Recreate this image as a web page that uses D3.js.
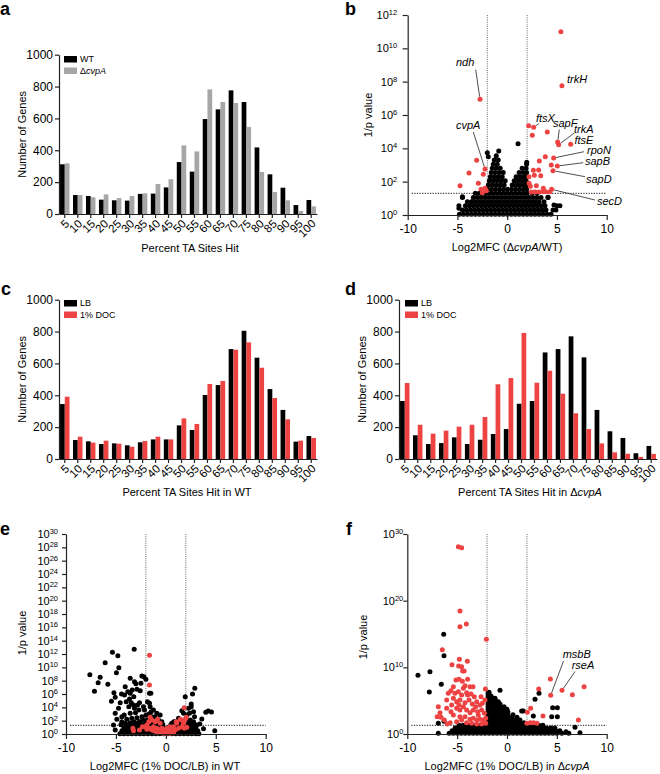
<!DOCTYPE html>
<html><head><meta charset="utf-8">
<script src="https://cdn.jsdelivr.net/npm/d3@7"></script>
<style>body{margin:0;background:#fff} text{font-family:"Liberation Sans",Arial,Helvetica,sans-serif;fill:#000}</style>
</head><body><script>
// ---------- DATA ----------
const cats = [5,10,15,20,25,30,35,40,45,50,55,60,65,70,75,80,85,90,95,100];
const yBarTicks = [0,200,400,600,800,1000];
const wtA   = [312,119,113,90,86,84,126,128,167,326,266,596,657,776,703,418,249,165,56,88];
const cvpA_A= [318,119,105,123,100,113,130,188,218,431,393,782,703,697,546,264,138,86,19,48];
const lbC   = [345,119,111,94,98,86,105,123,123,211,182,402,464,690,805,636,439,308,109,144];
const docC  = [391,140,103,115,96,77,113,140,123,255,220,471,490,686,732,573,383,249,115,132];
const lbD   = [364,149,94,100,136,94,121,157,188,347,364,669,690,770,638,308,174,132,36,82];
const docD  = [477,215,159,178,203,215,264,469,508,791,479,554,410,287,188,98,42,33,13,32];
const xVolTicks = [-10,-5,0,5,10];

// volcano points: [log2 fold change, log10(1/p)]
const bRed = [[5.4,11.0],[5.5,7.76],[-2.73,6.94],[2.16,5.36],[2.66,5.26],[2.52,4.78],[4.03,4.98],[5.07,4.38],[5.17,4.22],[6.38,4.24],[4.67,3.42],[3.83,3.5],[3.23,3.24],[4.43,3.0],[5.04,2.94],[4.6,2.66],[2.63,2.68],[3.16,2.7],[2.19,2.3],[2.73,2.38],[3.37,2.36],[2.32,1.72],[2.93,1.76],[3.63,1.6],[4.47,1.54],[2.42,1.38],[2.79,1.38],[3.2,1.38],[3.63,1.4],[3.87,1.4],[4.3,1.4],[2.2,1.9],[-2.23,2.76],[-2.4,2.44],[-3.07,3.28],[-3.84,2.52],[-4.74,1.76],[-2.9,1.9],[-2.63,1.54],[-2.5,1.34],[-2.23,1.6],[-2.1,1.45]];
const bBlackRows = [
 [0.05,[-4.8,-4.4,-4.0,-3.6,-3.2,-2.8,-2.4,-2.0,-1.6,-1.2,-0.8,-0.4,0,0.4,0.8,1.2,1.6,2.0,2.4,2.8,3.2,3.6,4.0,4.4]],
 [0.3,[-4.5,-4.1,-3.7,-3.3,-2.9,-2.5,-2.1,-1.7,-1.3,-0.9,-0.5,-0.1,0.3,0.7,1.1,1.5,1.9,2.3,2.7,3.1,3.5,3.9,4.6,4.9]],
 [0.55,[-4.85,-4.2,-3.8,-3.4,-3.0,-2.6,-2.2,-1.8,-1.4,-1.0,-0.6,-0.2,0.2,0.6,1.0,1.4,1.8,2.2,2.6,3.0,3.4,3.8,5.0,5.3]],
 [0.8,[-4.0,-3.6,-3.2,-2.8,-2.4,-2.0,-1.6,-1.2,-0.8,-0.4,0,0.4,0.8,1.2,1.6,2.0,2.4,2.8,3.2,3.7]],
 [1.05,[-4.5,-3.4,-3.0,-2.6,-2.2,-1.8,-1.4,-1.0,-0.6,-0.2,0.2,0.6,1.0,1.4,1.8,2.2,2.6,3.0,3.4,4.1]],
 [1.3,[-3.2,-2.8,-2.4,-2.0,-1.6,-1.2,-0.8,-0.4,0,0.4,0.8,1.2,1.6,2.0,2.5,3.0]],
 [1.55,[-1.95,-1.55,-1.15,-0.75,-0.35,0.05,0.45,0.85,1.25,1.65,1.95]],
 [1.8,[-1.9,-1.5,-1.1,-0.7,-0.3,0.5,0.9,1.3,1.7,1.95]],
 [2.05,[-1.8,-1.4,-1.0,-0.6,-0.2,0.7,1.1,1.5,1.9]],
 [2.3,[-1.7,-1.3,-0.9,-0.5,0.9,1.3,1.7,1.95]],
 [2.55,[-1.6,-1.2,-0.8,-0.4,1.2,1.6,1.95]],
 [2.8,[-1.5,-1.1,-0.7,1.5,1.9]],
 [3.05,[-1.4,-1.0,1.95]],
 [3.3,[-1.3,-0.9]]
];
const bBlackExtra = [[-2.0,3.74],[-0.85,3.84],[1.09,4.28],[1.96,3.16],[-1.9,3.5],[-1.1,3.55],[-4.85,0.4],[-4.5,1.1],[4.1,1.06],[4.7,0.6]];

const eRed = [[-1.64,11.8],[-1.64,7.35],[1.84,3.95],[-1.57,2.5],[-1.4,2.1],[-1.07,1.85],[-0.83,2.2],[-0.57,1.6],[-1.7,1.85],[-1.9,1.35],[-2.07,1.1],[-1.24,1.1],[-0.9,0.85],[-0.4,0.85],[-0.07,0.6],[0.27,0.6],[0.6,0.5],[0.93,0.6],[1.27,0.85],[1.6,1.1],[1.77,1.6],[1.94,2.2],[2.04,2.5],[1.6,2.1],[1.1,1.6],[0.77,1.1],[0.43,1.1],[0.1,0.85],[-0.23,0.35],[-0.57,0.35],[-0.9,0.2],[-1.4,0.6],[-1.64,0.85],[-3.3,0.85],[-3.24,0.5],[1.84,0.85],[2.1,1.0],[1.04,1.85],[1.44,2.2],[-0.23,0.1],[0.1,0.1],[0.43,0.1],[0.77,0.2],[-0.57,0.7],[-1.17,0.5],[-1.9,0.7],[-2.34,1.1],[-2.64,0.6]];
const eBlack = [[-3.17,12.7],[-5.35,12.25],[-4.81,11.75],[-6.08,10.7],[-4.71,9.95],[-4.95,9.2],[-7.61,8.9],[-6.58,8.5],[-6.78,7.7],[-5.81,7.45],[-7.15,6.4],[-5.2,6.2],[-5.45,4.9],[-3.57,8.35],[-3.14,7.85],[-3.0,7.55],[-2.5,7.6],[-2.4,8.7],[-2.2,8.6],[-2.0,8.2],[-1.64,6.1],
 [-4.44,6.0],[-4.14,5.85],[-3.81,6.35],[-3.57,6.1],[-3.37,6.6],[-3.21,5.6],[-3.64,5.25],[-3.97,4.85],[-3.47,4.7],[-3.24,4.35],[-3.71,4.1],[-3.14,3.85],[-2.84,4.35],[-2.64,4.7],[-2.7,3.6],[-3.04,3.2],[-3.57,3.1],[-4.17,2.85],[-4.41,2.6],[-3.91,2.2],[-3.41,2.35],[-2.9,2.45],[-2.4,2.6],[-2.0,2.8],[-2.14,3.6],[-2.24,4.1],[-1.84,4.85],[-1.64,4.6],[-1.57,4.1],[-1.47,3.35],[-1.7,3.0],[-1.4,2.6],[-4.41,1.85],[-4.07,1.6],[-3.57,1.7],[-3.07,1.7],[-2.64,1.85],[-2.24,2.1],[-1.84,2.1],[-1.4,1.85],[-1.07,2.6],[-0.73,2.1],[-0.57,2.85],[-0.9,3.1],[-1.24,3.6],[-1.5,6.1],[-2.9,6.7],[-2.57,6.5],[-4.07,7.1],[-5.07,5.5],[-4.57,4.7],[-4.74,3.85],[-5.07,3.1],[-4.91,2.2],[-5.24,1.35],
 [2.9,6.85],[2.67,6.0],[1.94,5.6],[2.54,4.5],[2.54,4.1],[2.87,2.6],[4.0,3.25],[4.24,3.45],[4.57,3.3],[3.4,1.5],[3.6,2.25],[4.9,0.5],[3.77,0.8],[1.6,3.5],[1.77,3.1],[2.1,2.85],[1.27,2.35],[0.93,1.85],[0.6,1.6],[1.5,1.6],[2.44,2.1],[2.77,1.85],[3.1,1.35],[2.6,0.85],[2.1,0.6],[2.37,3.1],[2.77,3.35],[2.27,3.85],[-5.07,0.6]];
const eBlackRows = [
 [0.05,[-4.6,-4.2,-3.8,-3.4,-3.0,-2.6,-2.2,-1.8,-1.4,-1.0,-0.6,-0.2,0.2,0.6,1.0,1.4,1.8,2.2,2.6,3.0,3.3]],
 [0.5,[-4.4,-4.0,-3.6,-3.2,-2.8,-2.4,-2.0,-1.6,-1.2,-0.8,-0.4,0,0.4,0.8,1.2,1.6,2.0,2.4,2.8,3.2]],
 [0.95,[-4.2,-3.8,-3.4,-3.0,-2.6,-2.2,-1.8,-1.4,-1.0,-0.6,-0.2,0.2,0.6,1.0,1.4,1.8,2.2,2.6,3.0]],
 [1.4,[-4.5,-3.9,-3.5,-3.1,-2.7,-2.3,-1.9,-1.5,-1.1,-0.7,-0.3,0.5,0.9,1.3,1.7,2.1,2.5,2.9]],
 [1.85,[-3.2,-2.6,-2.0,-1.2,-0.4,0.8,1.6,2.3]]
];

const fRed = [[-4.88,28.1],[-4.55,27.95],[-4.72,18.45],[-4.72,16.1],[-4.08,16.5],[-2.07,14.2],[-6.49,12.65],[-4.78,11.2],[-3.98,10.9],[-5.52,10.4],[-4.85,10.2],[-4.55,10.1],[-4.45,9.45],[-4.3,9.45],
 [-5.12,8.1],[-4.82,8.2],[-4.48,7.9],[-3.95,8.2],[-4.21,7.25],[-3.71,7.1],[-3.41,7.1],[-5.38,7.1],[-5.62,6.5],[-5.22,6.1],[-4.88,6.35],[-4.55,5.85],[-4.05,6.2],[-3.61,6.0],[-3.28,5.6],[-5.38,5.35],[-5.05,4.85],[-4.72,5.1],[-4.21,4.7],[-3.81,5.1],[-3.48,4.5],[-3.04,4.85],[-2.61,5.6],[-2.47,4.6],[-2.21,5.1],[-2.17,6.75],[-6.05,5.1],[-6.05,3.85],[-6.89,4.1],[-6.72,3.2],[-6.62,2.5],[-6.29,2.1],[-5.62,3.35],[-5.38,2.85],[-5.05,3.85],[-4.72,3.6],[-4.38,4.1],[-4.05,3.6],[-3.71,3.2],[-3.38,3.6],[-2.94,3.35],[-2.54,3.6],[-2.27,3.1],[-4.21,2.6],[-3.71,2.2],[-3.38,2.35],[-3.04,2.1],[-2.71,2.2],[-2.37,2.1],[-2.14,2.35],[-4.55,2.1],[-5.05,1.85],[-4.05,1.7],[-3.55,1.6],[-3.04,1.5],[-2.54,1.5],[-2.14,1.6],[-4.72,2.6],[-2.88,2.85],[-3.95,5.85],[-5.89,6.1],[-4.38,6.85],[-4.82,4.35],[-5.55,4.35],[-2.71,4.35],[-3.14,4.1],[-7.0,2.6],[-5.7,1.7],[-6.0,1.5],
 [4.35,8.25],[7.73,7.1],[3.18,6.75],[4.38,5.8],[5.52,6.55],[6.56,5.9],[2.37,3.85],[2.04,3.25],[3.61,2.7],[7.16,2.1],[2.0,1.6],[2.33,1.7],[2.66,1.7],[3.0,1.6]];
const fBlack = [[-6.35,14.95],[-6.32,11.75],[-8.93,8.8],[-7.73,9.35],[-7.79,6.3],[-6.59,7.45],[-6.89,1.6],[-6.89,0.1],[-6.32,1.9],[-1.8,6.25],[-0.7,6.55],[3.21,6.1],[2.81,5.2],[2.64,2.7],[1.64,3.45],[4.58,3.95],[5.05,3.95],[4.48,2.6],[5.05,2.6],[6.82,1.0],[7.32,0.2],[5.92,0.35],[-1.2,5.35],[-0.87,4.85],[-0.7,4.1],[1.47,3.45]];
const fBlackRows = [
 [0.1,[-5.8,-5.4,-5.0,-4.6,-4.2,-3.8,-3.4,-3.0,-2.6,-2.2,-1.8,-1.4,-1.0,-0.6,-0.2,0.2,0.6,1.0,1.4,1.8,2.2,2.6,3.0,3.4,3.8,4.2,4.6,5.0,5.5,6.2]],
 [0.5,[-5.5,-5.1,-4.7,-4.3,-3.9,-3.5,-3.1,-2.7,-2.3,-1.9,-1.5,-1.1,-0.7,-0.3,0.1,0.5,0.9,1.3,1.7,2.1,2.5,2.9,3.3,3.7,4.1,4.5,4.9,5.3]],
 [0.9,[-5.2,-4.8,-4.4,-4.0,-3.6,-3.2,-2.8,-2.4,-2.0,-1.6,-1.2,-0.8,-0.4,0,0.4,0.8,1.2,1.6,2.0,2.4,2.8,3.2,3.6,4.0,4.4,4.8]],
 [1.3,[-4.8,-4.4,-4.0,-3.6,-3.2,-2.8,-2.4,-2.0,-1.6,-1.2,-0.8,-0.4,0,0.4,0.8,1.2,1.6,2.0,2.4,2.8,3.2,3.6]],
 [1.7,[-1.9,-1.5,-1.1,-0.7,-0.3,0.1,0.5,0.9,1.3,1.7]],
 [2.1,[-1.9,-1.5,-1.1,-0.7,-0.3,0.1,0.5,0.9,1.3]],
 [2.5,[-1.9,-1.5,-1.1,-0.7,-0.3,0.1,0.5,1.0]],
 [2.9,[-1.9,-1.5,-1.1,-0.7,-0.3,0.1,0.6]],
 [3.3,[-1.9,-1.5,-1.1,-0.7,-0.3,0.1]],
 [3.7,[-1.9,-1.5,-1.1,-0.7,-0.3,0.0]],
 [4.1,[-1.9,-1.5,-1.1,-0.7,-0.3]],
 [4.5,[-1.9,-1.5,-1.1,-0.7]],
 [4.9,[-1.9,-1.5,-1.1]],
 [5.3,[-1.9,-1.5]],
 [5.7,[-1.9,-1.6]],
 [6.1,[-1.9]]
];
const bGenes = [
 {name:"ndh", pt:[-2.73,6.94], tx:456, ty:66, line:[475.7,69.5]},
 {name:"cvpA", pt:[-2.23,2.76], tx:456, ty:129, line:[473.3,132]},
 {name:"trkH", pt:[5.5,7.76], tx:567, ty:83, line:null},
 {name:"ftsX", pt:[2.66,5.26], tx:536, ty:122, line:[539,123.5]},
 {name:"sapF", pt:[5.07,4.38], tx:553, ty:127, line:[559.3,129.5]},
 {name:"trkA", pt:[5.17,4.22], tx:574, ty:133, line:[574.3,133]},
 {name:"ftsE", pt:[6.38,4.24], tx:574.5, ty:144, line:null},
 {name:"rpoN", pt:[4.67,3.42], tx:587, ty:154, line:[584,151.7]},
 {name:"sapB", pt:[5.04,2.94], tx:585, ty:165, line:[583.3,162.7]},
 {name:"sapD", pt:[4.6,2.66], tx:586, ty:182.5, line:[585,176.7]},
 {name:"secD", pt:[4.47,1.54], tx:597, ty:205, line:[595,200]}
];
const fGenes = [
 {name:"msbB", pt:[4.38,5.8], tx:562.7, ty:658, line:[563.5,661]},
 {name:"rseA", pt:[5.52,6.55], tx:571.7, ty:669, line:[575,671.5]}
];

// ---------- DRAWING ----------
const RED = "#ee4343", GRAY = "#a6a6a6", BLK = "#000";
const svg = d3.select("body").append("svg").attr("width",660).attr("height",774);

function letter(t,x,y){ svg.append("text").attr("x",x).attr("y",y).attr("font-size",18).attr("font-weight","bold").text(t); }

function styleAxis(a,fs){
  a.selectAll("path,line").attr("stroke","#222").attr("stroke-width",1.2);
  a.selectAll("text").attr("font-size",fs||11).attr("fill","#000").attr("font-family",null);
}

function barPanel(o){
  const g = svg.append("g");
  const x = d3.scaleBand().domain(cats).range([o.x0,o.x1]).paddingInner(0.27).paddingOuter(0.08);
  const y = d3.scaleLinear().domain([0,1000]).range([o.yb,o.yt]);
  const sub = d3.scaleBand().domain([0,1]).range([0,x.bandwidth()]);
  [o.s1,o.s2].forEach((s,k)=>{
    g.append("g").selectAll("rect").data(s).join("rect")
      .attr("x",(d,i)=>x(cats[i])+sub(k)).attr("y",d=>y(d))
      .attr("width",sub.bandwidth()).attr("height",d=>y(0)-y(d)).attr("fill",o.colors[k]);
  });
  const ya = g.append("g").attr("transform",`translate(${o.x0},0)`)
    .call(d3.axisLeft(y).tickValues(yBarTicks).tickFormat(d3.format("d")).tickSize(4).tickSizeOuter(0).tickPadding(2));
  styleAxis(ya,12);
  const xa = g.append("g").attr("transform",`translate(0,${o.yb})`)
    .call(d3.axisBottom(x).tickSize(4).tickSizeOuter(0));
  styleAxis(xa,11.5);
  xa.selectAll(".tick text").attr("x",0).attr("y",0).attr("dy","0.35em")
    .attr("text-anchor","end").attr("transform","translate(2.5,7.5) rotate(-45)");
  // legend
  o.legend.forEach((L,k)=>{
    const ly = o.legY + k*11.5;
    g.append("rect").attr("x",o.legX).attr("y",ly).attr("width",13).attr("height",6.5).attr("fill",o.colors[k]);
    const t = g.append("text").attr("x",o.legX+16).attr("y",ly+6.2).attr("font-size",9);
    L.forEach(p=>t.append("tspan").attr("font-style",p.i?"italic":null).text(p.t));
  });
  // labels
  const xl = g.append("text").attr("x",o.xlx).attr("y",o.xly).attr("text-anchor","middle").attr("font-size",11);
  o.xlabel.forEach(p=>xl.append("tspan").attr("font-style",p.i?"italic":null).text(p.t));
  g.append("text").attr("transform",`translate(${o.ylx},${(o.yt+o.yb)/2}) rotate(-90)`)
    .attr("text-anchor","middle").attr("font-size",11).text("Number of Genes");
}

function volcano(o){
  const g = svg.append("g");
  const x = d3.scaleLinear().domain([-10,10]).range([o.x0,o.x1]);
  const y = d3.scaleLog().domain([1,Math.pow(10,o.emax)]).range([o.yb,o.yt]);
  const P = e => y(Math.pow(10,e));
  // threshold lines
  [-2,2].forEach(v=>g.append("line").attr("x1",x(v)).attr("x2",x(v)).attr("y1",o.yt).attr("y2",o.yb)
     .attr("stroke","#666").attr("stroke-width",1).attr("stroke-dasharray","1,1.2"));
  g.append("line").attr("x1",o.x0+4).attr("x2",o.x1).attr("y1",y(20)).attr("y2",y(20))
     .attr("stroke","#222").attr("stroke-width",1).attr("stroke-dasharray","1.3,1.3");
  const black = o.rows.flatMap(r=>r[1].map(v=>[v,r[0]])).concat(o.black);
  g.append("g").selectAll("circle").data(black).join("circle")
    .attr("cx",d=>x(d[0])).attr("cy",d=>P(d[1])).attr("r",2.5).attr("fill",BLK);
  g.append("g").selectAll("circle").data(o.red).join("circle")
    .attr("cx",d=>x(d[0])).attr("cy",d=>P(d[1])).attr("r",2.5).attr("fill",RED);
  // axes
  const xa = g.append("g").attr("transform",`translate(0,${o.yb})`)
    .call(d3.axisBottom(x).tickValues(xVolTicks).tickFormat(d=>String(d)).tickSize(5).tickSizeOuter(0).tickPadding(4));
  styleAxis(xa,12);
  const exps = d3.range(0,o.emax+1,o.step);
  const ya = g.append("g").attr("transform",`translate(${o.x0},0)`)
    .call(d3.axisLeft(y).tickValues(exps.map(k=>Math.pow(10,k))).tickFormat("").tickSize(o.ts).tickSizeOuter(0));
  styleAxis(ya);
  exps.forEach(k=>{
    const t = g.append("text").attr("x",o.x0-o.lpad).attr("y",P(k)).attr("dy","0.36em")
      .attr("text-anchor","end").attr("font-size",11);
    t.append("tspan").text("10");
    t.append("tspan").attr("dy",-4).attr("font-size",7.5).text(k);
  });
  const xl = g.append("text").attr("x",o.xlx).attr("y",o.xly).attr("text-anchor","middle").attr("font-size",11);
  o.xlabel.forEach(p=>xl.append("tspan").attr("font-style",p.i?"italic":null).text(p.t));
  g.append("text").attr("transform",`translate(${o.ylx},${o.yly}) rotate(-90)`)
    .attr("text-anchor","middle").attr("font-size",11).text("1/p value");
  // annotations
  (o.genes||[]).forEach(G=>{
    if(G.line){
      const px = x(G.pt[0]), py = P(G.pt[1]);
      const dx = G.line[0]-px, dy = G.line[1]-py, L = Math.hypot(dx,dy);
      g.append("line").attr("x1",G.line[0]).attr("y1",G.line[1])
        .attr("x2",px+dx/L*2.6).attr("y2",py+dy/L*2.6).attr("stroke","#222").attr("stroke-width",0.8);
    }
    g.append("text").attr("x",G.tx).attr("y",G.ty).attr("font-size",11).attr("font-style","italic").text(G.name);
  });
}

// panels
letter("a",0,15); letter("b",345,15); letter("c",1,295); letter("d",345,295); letter("e",0,535); letter("f",346,535);

barPanel({x0:59,x1:317,yt:54.7,yb:214,s1:wtA,s2:cvpA_A,colors:[BLK,GRAY],
  legX:64,legY:56,legend:[[{t:"WT"}],[{t:"\u0394"},{t:"cvpA",i:true}]],
  xlabel:[{t:"Percent TA Sites Hit"}],xlx:190,xly:252,ylx:26});
barPanel({x0:59,x1:317,yt:299.7,yb:459,s1:lbC,s2:docC,colors:[BLK,RED],
  legX:64,legY:300,legend:[[{t:"LB"}],[{t:"1% DOC"}]],
  xlabel:[{t:"Percent TA Sites Hit in WT"}],xlx:187,xly:496,ylx:26});
barPanel({x0:399,x1:657,yt:299.7,yb:459,s1:lbD,s2:docD,colors:[BLK,RED],
  legX:405,legY:300,legend:[[{t:"LB"}],[{t:"1% DOC"}]],
  xlabel:[{t:"Percent TA Sites Hit in \u0394"},{t:"cvpA",i:true}],xlx:530,xly:496,ylx:366});

volcano({x0:407.7,x1:606.7,yt:15,yb:215,emax:12,step:2,ts:5,lpad:10.5,
  rows:bBlackRows,black:bBlackExtra,red:bRed,genes:bGenes,
  xlabel:[{t:"Log2MFC (\u0394"},{t:"cvpA",i:true},{t:"/WT)"}],xlx:507,xly:251,ylx:372,yly:115});
volcano({x0:66,x1:265.7,yt:534,yb:734,emax:30,step:2,ts:4,lpad:8,
  rows:eBlackRows,black:eBlack,red:eRed,
  xlabel:[{t:"Log2MFC (1% DOC/LB) in WT"}],xlx:165,xly:770,ylx:26,yly:633});
volcano({x0:407.3,x1:606.7,yt:534,yb:734,emax:30,step:10,ts:4,lpad:4,
  rows:fBlackRows,black:fBlack,red:fRed,genes:fGenes,
  xlabel:[{t:"Log2MFC (1% DOC/LB) in \u0394"},{t:"cvpA",i:true}],xlx:507,xly:770,ylx:367,yly:637});
</script></body></html>
